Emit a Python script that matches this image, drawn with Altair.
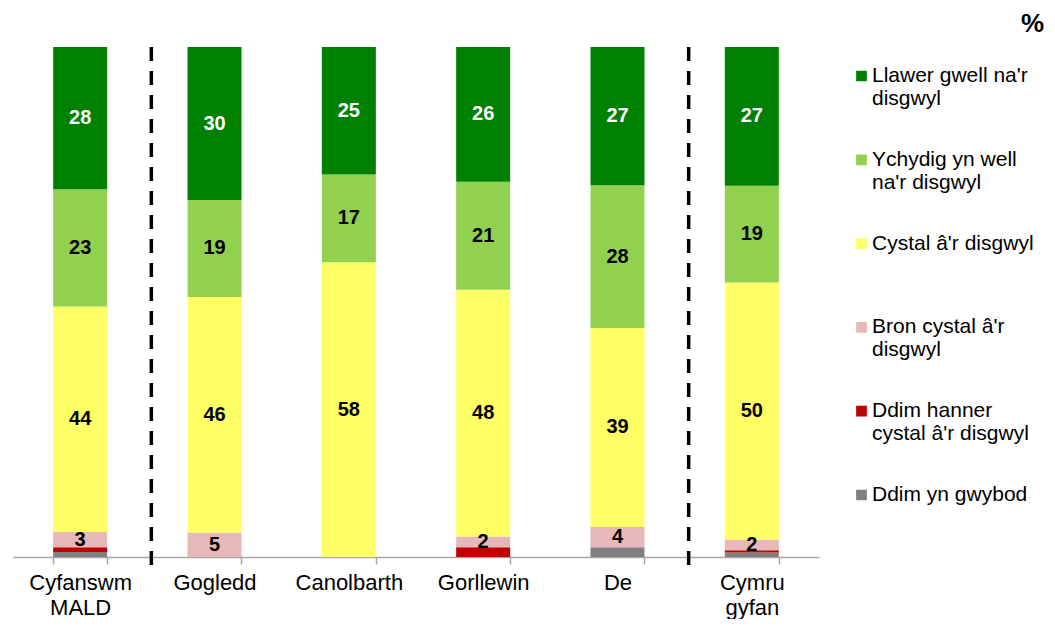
import altair as alt
import pandas as pd

regions = ["Cyfanswm\nMALD", "Gogledd", "Canolbarth", "Gorllewin", "De", "Cymru\ngyfan"]
# bottom -> top stacking order
series = [
    "Ddim yn gwybod",
    "Ddim hanner\ncystal â'r disgwyl",
    "Bron cystal â'r\ndisgwyl",
    "Cystal â'r disgwyl",
    "Ychydig yn well\nna'r disgwyl",
    "Llawer gwell na'r\ndisgwyl",
]
colors = ["#808080", "#C00000", "#E6B9B8", "#FFFF66", "#92D050", "#008000"]

dont_know = [1.0, 0.0, 0.0, 0.0, 1.9, 0.9]
not_half = [0.9, 0.0, 0.0, 1.9, 0.0, 0.4]
nearly = [3.0, 4.8, 0.0, 2.1, 4.0, 2.1]
as_good = [44.2, 46.2, 57.8, 48.4, 39.0, 50.4]
bit_better = [23.0, 19.0, 17.2, 21.2, 28.0, 19.0]
much_better = [27.9, 30.0, 25.0, 26.4, 27.1, 27.2]

dividers = ["Gogledd", "Cymru\ngyfan"]

values = [dont_know, not_half, nearly, as_good, bit_better, much_better]
rows = []
for si, (s, vals) in enumerate(zip(series, values)):
    for r, v in zip(regions, vals):
        rows.append({"region": r, "series": s, "idx": si, "value": v})
df = pd.DataFrame(rows)
div_df = pd.DataFrame({"region": dividers})

FONT = "Liberation Sans"
W, H = 806, 510
PL, PT = 5, 39
PR = 1039 - PL - W
PB = 611 - PT - H
step = W / len(regions)

xenc = alt.X(
    "region:N",
    sort=regions,
    scale=alt.Scale(paddingInner=0.6, paddingOuter=0.3),
    axis=alt.Axis(
        title=None,
        labelExpr="split(datum.label, '\\n')",
        tickBand="extent",
        labelAngle=0,
        labelFontSize=22,
        labelLineHeight=25,
        labelFont=FONT,
        labelColor="black",
        labelPadding=8,
        tickSize=7,
        tickColor="#A6A6A6",
        domainColor="#A6A6A6",
        domainWidth=1.5,
        tickWidth=1.5,
    ),
)

yscale = alt.Scale(domain=[0, 100], nice=False)

bars = alt.Chart(df).mark_bar(size=54).encode(
    x=xenc,
    y=alt.Y("value:Q", stack="zero", scale=yscale, axis=None),
    order=alt.Order("idx:Q", sort="ascending"),
    color=alt.Color(
        "series:N",
        scale=alt.Scale(domain=series[::-1], range=colors[::-1]),
        legend=alt.Legend(
            title=None,
            orient="none",
            legendX=838,
            legendY=-11,
            padding=0,
            symbolType="square",
            symbolSize=115,
            symbolStrokeWidth=0,
            labelFontSize=21,
            labelFont=FONT,
            labelColor="black",
            labelExpr="split(datum.label, '\\n')",
            labelLimit=400,
            labelOffset=0,
            clipHeight=80,
            rowPadding=3.8,
        ),
    ),
)

labels = (
    alt.Chart(df)
    .transform_stack(
        stack="value",
        groupby=["region"],
        as_=["y0", "y1"],
        sort=[alt.SortField("idx", order="ascending")],
    )
    .transform_calculate(mid="(datum.y0 + datum.y1) / 2")
    .transform_filter("datum.idx >= 2 && datum.value >= 1.5")
    .mark_text(font=FONT, fontSize=20, fontWeight="bold")
    .encode(
        x=alt.X("region:N", sort=regions),
        y=alt.Y("mid:Q", scale=yscale, axis=None),
        text=alt.Text("value:Q", format=".0f"),
        color=alt.condition("datum.idx == 5", alt.value("white"), alt.value("black")),
    )
)

rules = alt.Chart(div_df).mark_rule(color="black", strokeWidth=3.5, strokeDash=[14, 10]).encode(
    x=alt.X("region:N", sort=regions),
    xOffset=alt.value(-step * 0.3 + 4),
    y=alt.value(0),
    y2=alt.value(H + 9),
)

chart = (
    alt.layer(bars, rules, labels)
    .properties(
        width=W,
        height=H,
        autosize=alt.AutoSizeParams(type="none"),
        padding={"left": PL, "top": PT, "right": PR, "bottom": PB},
        title=alt.TitleParams(
            "%", anchor="end", fontSize=26, fontWeight="bold", font=FONT, color="black",
            offset=1, dx=10, dy=2, frame="bounds"
        ),
    )
    .configure_view(stroke=None)
)

chart.save("out.html", embed_options={"renderer": "svg", "actions": False})
